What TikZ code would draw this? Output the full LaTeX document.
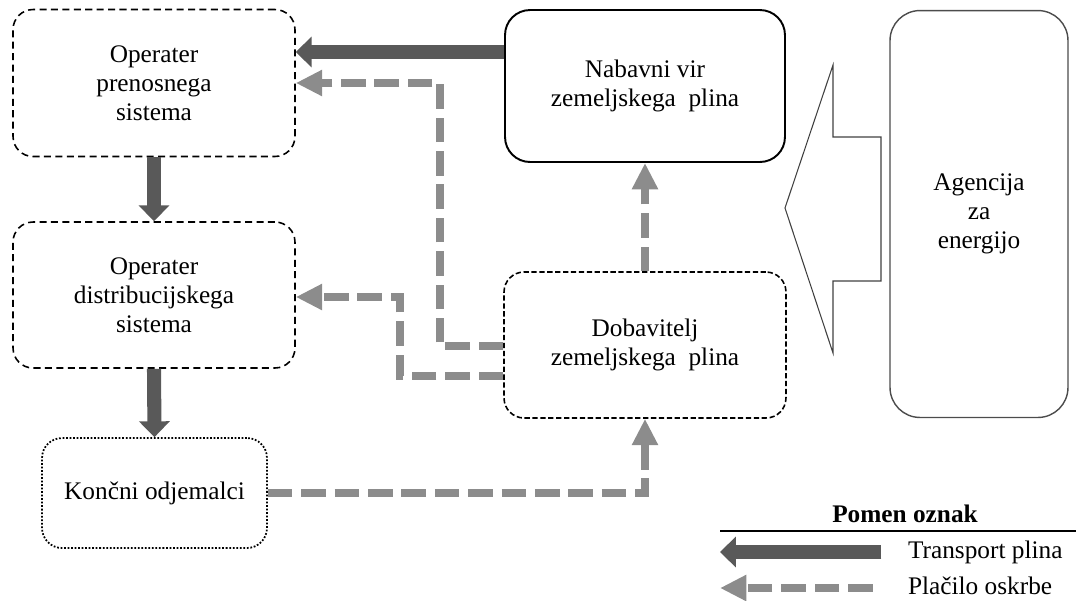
\documentclass[tikz,border=0pt]{standalone}
\usepackage{fontspec}
\setmainfont{Liberation Serif}
\usepackage{tikz}
\usetikzlibrary{arrows.meta,positioning}

\definecolor{transportgray}{HTML}{595959}
\definecolor{placilogray}{HTML}{8C8C8C}

\begin{document}
\begin{tikzpicture}[x=0.02cm,y=-0.02cm,
    font=\fontsize{14.4}{16.5}\selectfont,
    box/.style={rounded corners=0.4cm,align=center,inner sep=2pt},
    transport/.style={draw=transportgray,line width=8pt,-{Triangle[width=17pt,length=9pt]}},
    placilo/.style={draw=placilogray,line width=5pt,dash pattern=on 14pt off 5pt,-{Triangle[width=14pt,length=15pt]}}]
    \useasboundingbox (0,0) rectangle (1076,600);

    % operaterji
    \node (ops) [box,draw,line width=0.9pt,dash pattern=on 4pt off 2.5pt,minimum width=5.64cm,minimum height=2.94cm] at (154,83) {Operater\\prenosnega\\sistema};
    \node (ods) [box,draw,line width=0.9pt,dash pattern=on 4pt off 2.5pt,minimum width=5.64cm,minimum height=2.92cm] at (154,295) {Operater\\distribucijskega\\sistema};
    \node (koncni) [box,draw,line width=1pt,dash pattern=on 1pt off 1pt,minimum width=4.5cm,minimum height=2.2cm] at (154.5,493) {Končni odjemalci};

    % dobava
    \node (nabavni) [box,draw,line width=1.1pt,rounded corners=0.5cm,minimum width=5.6cm,minimum height=3.04cm] at (645,86) {Nabavni vir\\zemeljskega\ \ plina};
    \node (dob) [box,draw,line width=0.9pt,dash pattern=on 3pt off 1.5pt,minimum width=5.64cm,minimum height=2.92cm] at (645,345) {Dobavitelj\\zemeljskega\ \ plina};
    \node (agencija) [box,draw=black!70,line width=0.8pt,rounded corners=0.6cm,minimum width=3.56cm,minimum height=8.14cm] at (979,214) {Agencija\\za\\energijo};

    % nadzor agencije
    \draw[black!75,line width=0.6pt] (881,137) -- (833,137) -- (833,65) -- (785,208) -- (833,353) -- (833,281) -- (881,281) -- cycle;

    % transport plina
    \draw[transport] (nabavni.west |- 0,52) -- (ops.east |- 0,52);
    \draw[transport] (ops.south) -- (ods.north);
    \draw[transport] (ods.south) -- (koncni.north);

    % placilo oskrbe
    \draw[placilo] (dob.west |- 0,346) -| (440,83) -- (ops.east |- 0,83);
    \draw[placilo] (dob.west |- 0,376) -| (400,297) -- (ods.east |- 0,297);
    \draw[placilo] (dob.north) -- (nabavni.south);
    \draw[placilo] (koncni.east) -| (dob.south);

    % legenda
    \node (pomen) [font=\fontsize{14.4}{16.5}\selectfont\bfseries,inner sep=1pt] at (905,514) {Pomen oznak};
    \draw[line width=0.8pt] (720,531) -- (1076,531);
    \node (ltransport) [anchor=west,inner sep=1pt] at (906,552) {Transport plina};
    \node (lplacilo) [anchor=west,inner sep=1pt] at (906,586) {Plačilo oskrbe};
    \coordinate (ltransportend) at (720,552);
    \coordinate (lplaciloend) at (720,588);
    \draw[transport] ([xshift=-14pt]ltransport.west) -- (ltransportend);
    \draw[placilo] ([xshift=-19pt]lplacilo.west |- lplaciloend) -- (lplaciloend);
\end{tikzpicture}
\end{document}
